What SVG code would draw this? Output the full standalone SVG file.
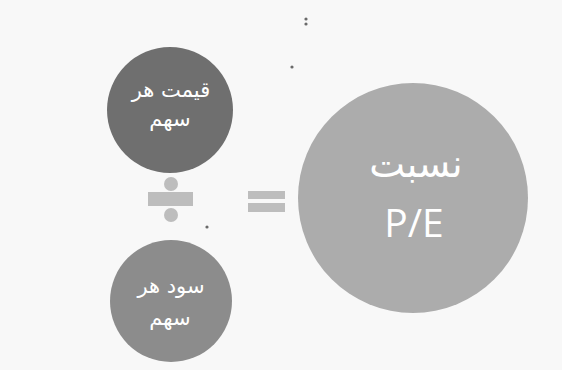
<svg xmlns="http://www.w3.org/2000/svg" width="562" height="370" viewBox="0 0 562 370">
<style>
.lbl{font-family:"DejaVu Sans","Noto Sans",sans-serif;fill:#ffffff;text-anchor:middle}
.sign{fill:#bdbdbd}
.dot{fill:#6a6a6a}
</style>
<rect x="0" y="0" width="562" height="370" fill="#f8f8f8"/>
<g id="price">
<circle cx="170" cy="110" r="63" fill="#6f6f6f"/>
<text class="lbl" x="171" y="97" font-size="21">قیمت هر</text>
<text class="lbl" x="170" y="126" font-size="21">سهم</text>
</g>
<g id="earnings">
<circle cx="171" cy="301" r="61" fill="#8c8c8c"/>
<text class="lbl" x="171" y="293" font-size="21">سود هر</text>
<text class="lbl" x="170" y="325" font-size="21">سهم</text>
</g>
<g id="pe">
<circle cx="413" cy="198" r="115" fill="#acacac"/>
<text class="lbl" x="416" y="177" font-size="38">نسبت</text>
<text class="lbl" x="414" y="237" font-size="39" style="font-family:'Open Sans','Liberation Sans',sans-serif">P/E</text>
</g>
<g id="divide">
<circle class="sign" cx="171" cy="184" r="7"/>
<rect class="sign" x="148" y="192" width="45" height="14"/>
<circle class="sign" cx="171" cy="215" r="7"/>
</g>
<g id="equals">
<rect class="sign" x="248" y="191" width="37" height="8"/>
<rect class="sign" x="248" y="203" width="37" height="9"/>
</g>
<g id="dots">
<circle class="dot" cx="306" cy="19" r="1.6"/>
<circle class="dot" cx="306" cy="24" r="1.6"/>
<circle class="dot" cx="292" cy="67" r="1.6"/>
<circle class="dot" cx="207" cy="227" r="1.6"/>
</g>
<g id="connectors"></g>
</svg>
